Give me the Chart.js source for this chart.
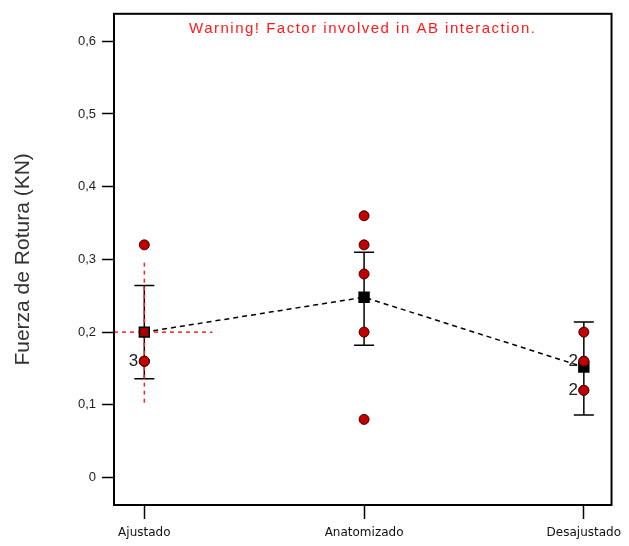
<!DOCTYPE html>
<html>
<head>
<meta charset="utf-8">
<script src="https://cdn.jsdelivr.net/npm/chart.js@4.4.1/dist/chart.umd.min.js"></script>
<style>
  html, body { margin: 0; padding: 0; background: #fff; }
</style>
</head>
<body>
<canvas id="chart" width="629" height="546"></canvas>
<script>
const categories = ["Ajustado", "Anatomizado", "Desajustado"];
const yTicks = [0, 0.1, 0.2, 0.3, 0.4, 0.5, 0.6];

// observaciones de cada grupo
const ajustadoValues = [0.32, 0.16, 0.16, 0.16];
const anatomizadoValues = [0.36, 0.32, 0.28, 0.2, 0.08];
const desajustadoValues = [0.2, 0.16, 0.16, 0.12, 0.12];

// medias y barras de error
const means = [0.2, 0.248, 0.152];
const errLow = [0.136, 0.182, 0.086];
const errHigh = [0.264, 0.31, 0.214];

// intervalo del nivel seleccionado (Ajustado)
const refInterval = [0.103, 0.297];
const refLineEnd = 0.31;

// numero de observaciones repetidas
const repeatX = [0, 2, 2];
const repeatY = [0.16, 0.16, 0.12];
const repeatText = ["3", "2", "2"];

const warningText = "Warning! Factor involved in AB interaction.";
const yTitle = "Fuerza de Rotura (KN)";

const xMin = -0.138;
const xMax = 2.126;

const groups = [ajustadoValues, anatomizadoValues, desajustadoValues];
const points = [];
groups.forEach((vals, i) => {
    vals.forEach((v) => points.push({ x: i, y: v }));
});
const meanPoints = means.map((m, i) => ({ x: i, y: m }));

// marco completo del area de grafico
const framePlugin = {
    id: "frame",
    afterDatasetsDraw(chart) {
        const { ctx, chartArea } = chart;
        ctx.save();
        ctx.strokeStyle = "#000";
        ctx.lineWidth = 2;
        ctx.strokeRect(chartArea.left, chartArea.top, chartArea.right - chartArea.left, chartArea.bottom - chartArea.top);
        ctx.restore();
    },
};

// barras de error (debajo de los puntos)
const errorBarPlugin = {
    id: "errorBars",
    beforeDatasetsDraw(chart) {
        const { ctx } = chart;
        const xs = chart.scales.x;
        const ys = chart.scales.y;
        ctx.save();
        ctx.strokeStyle = "#000";
        ctx.lineWidth = 1.5;
        means.forEach((m, i) => {
            const px = xs.getPixelForValue(i);
            const top = ys.getPixelForValue(errHigh[i]);
            const bottom = ys.getPixelForValue(errLow[i]);
            ctx.beginPath();
            ctx.moveTo(px, top);
            ctx.lineTo(px, bottom);
            ctx.moveTo(px - 10, top);
            ctx.lineTo(px + 10, top);
            ctx.moveTo(px - 10, bottom);
            ctx.lineTo(px + 10, bottom);
            ctx.stroke();
        });
        ctx.restore();
    },
};

// textos: aviso y cuentas de repetidos
const textPlugin = {
    id: "texts",
    afterDatasetsDraw(chart) {
        const { ctx, chartArea } = chart;
        const xs = chart.scales.x;
        const ys = chart.scales.y;
        ctx.save();
        ctx.fillStyle = "#ff1a1a";
        ctx.font = "15px 'Liberation Sans', Arial, sans-serif";
        ctx.letterSpacing = "1.5px";
        ctx.textAlign = "center";
        ctx.textBaseline = "middle";
        ctx.fillText(warningText, (chartArea.left + chartArea.right) / 2, 29);
        ctx.letterSpacing = "0px";
        ctx.fillStyle = "#222";
        ctx.font = "17px 'Liberation Sans', Arial, sans-serif";
        ctx.textAlign = "right";
        repeatText.forEach((t, i) => {
            ctx.fillText(t, xs.getPixelForValue(repeatX[i]) - 6, ys.getPixelForValue(repeatY[i]));
        });
        ctx.restore();
    },
};

const ctx = document.getElementById("chart").getContext("2d");
new Chart(ctx, {
    type: "scatter",
    data: {
        datasets: [
            {
                data: points,
                pointStyle: "circle",
                pointRadius: 5,
                pointBackgroundColor: "#c00000",
                pointBorderColor: "#4a0000",
                pointBorderWidth: 1,
            },
            {
                data: meanPoints,
                pointStyle: "rect",
                pointRadius: 7,
                pointBackgroundColor: ["#a00000", "#000", "#000"],
                pointBorderColor: "#000",
                pointBorderWidth: 1.5,
            },
            {
                data: meanPoints,
                showLine: true,
                borderColor: "#000",
                borderWidth: 1.5,
                borderDash: [5, 4],
                pointRadius: 0,
            },
            {
                data: [{ x: 0, y: refInterval[0] }, { x: 0, y: refInterval[1] }],
                showLine: true,
                borderColor: "#ff2020",
                borderWidth: 1.5,
                borderDash: [4, 4],
                pointRadius: 0,
            },
            {
                data: [{ x: xMin, y: means[0] }, { x: refLineEnd, y: means[0] }],
                showLine: true,
                borderColor: "#ff2020",
                borderWidth: 1.5,
                borderDash: [4, 4],
                pointRadius: 0,
            },
        ],
    },
    options: {
        responsive: false,
        animation: false,
        layout: { padding: { top: 9, right: 17, left: 0, bottom: 0 } },
        plugins: {
            legend: { display: false },
            tooltip: { enabled: false },
        },
        scales: {
            x: {
                type: "linear",
                min: xMin,
                max: xMax,
                afterBuildTicks: (scale) => {
                    scale.ticks = categories.map((c, i) => ({ value: i }));
                },
                afterFit: (scale) => {
                    scale.height = 41;
                },
                ticks: {
                    callback: (v) => categories[v],
                    color: "#111",
                    font: { family: "'DejaVu Sans'", size: 12 },
                    padding: 7,
                    maxRotation: 0,
                },
                grid: {
                    drawOnChartArea: false,
                    tickLength: 14,
                    tickColor: "#000",
                    tickWidth: 1.5,
                },
                border: { display: true, color: "#000", width: 2 },
            },
            y: {
                min: -0.0377,
                max: 0.6377,
                afterBuildTicks: (scale) => {
                    scale.ticks = yTicks.map((v) => ({ value: v }));
                },
                afterFit: (scale) => {
                    scale.width = 114;
                },
                ticks: {
                    callback: (v) => (v === 0 ? "0" : v.toFixed(1).replace(".", ",")),
                    color: "#222",
                    font: { family: "'Liberation Sans'", size: 13 },
                    padding: 6,
                },
                grid: {
                    drawOnChartArea: false,
                    tickLength: 12,
                    tickColor: "#000",
                    tickWidth: 1.5,
                },
                border: { display: true, color: "#000", width: 2 },
                title: {
                    display: true,
                    text: yTitle,
                    color: "#333",
                    font: { family: "'Liberation Sans'", size: 21 },
                    padding: { top: 11, bottom: 0 },
                },
            },
        },
    },
    plugins: [framePlugin, errorBarPlugin, textPlugin],
});
</script>
</body>
</html>
